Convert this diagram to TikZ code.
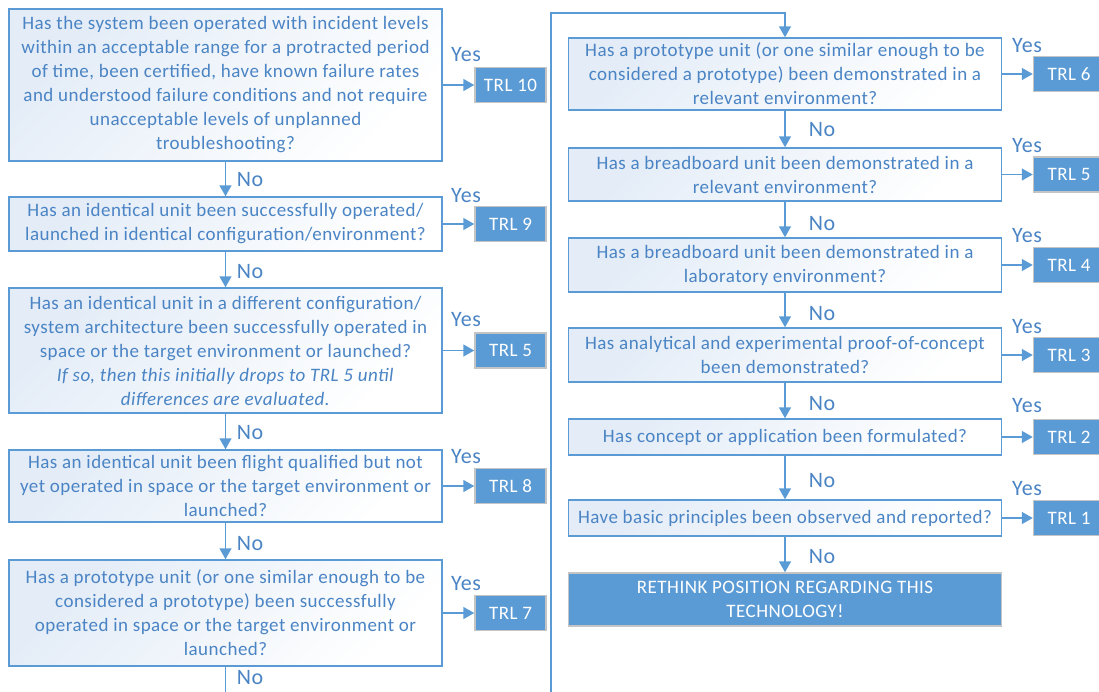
\documentclass[tikz,border=0pt]{standalone}
\usepackage{fontspec}
\setmainfont[LetterSpace=2.5]{Carlito}
\usetikzlibrary{arrows.meta}
\definecolor{lineblue}{HTML}{5B9BD5}
\definecolor{textblue}{HTML}{4A84C4}
\definecolor{qshade}{HTML}{E3ECF7}
\definecolor{trlgray}{HTML}{C4C4C4}
\begin{document}
\begin{tikzpicture}
[x=1pt,y=-1pt]
\tikzset{qbox/.style={draw=lineblue,line width=1.5pt,text=textblue,align=center,inner sep=0pt,minimum width=433pt,font=\fontsize{19}{24}\selectfont,top color=qshade,bottom color=white,shading angle=45}}
\tikzset{trl/.style={draw=trlgray,line width=1.5pt,fill=lineblue,text=white,inner sep=0pt,minimum width=71pt,minimum height=35pt,font=\fontsize{19}{22}\selectfont}}
\tikzset{arr/.style={draw=lineblue,line width=1.5pt,-{Triangle[length=11pt,width=12pt]}}}
\tikzset{lab/.style={text=textblue,inner sep=0pt,font=\fontsize{22}{24}\selectfont}}
\useasboundingbox (0,0) rectangle (1099,691);
\clip (0,0) rectangle (1099,691);

% left column
\node [qbox,minimum height=152pt] (q10) at (225.5,85) {Has the system been operated with incident levels\\within an acceptable range for a protracted period\\of time, been certified, have known failure rates\\and understood failure conditions and not require\\unacceptable levels of unplanned\\troubleshooting?};
\node [qbox,minimum height=54pt] (q9) at (225.5,224) {Has an identical unit been successfully operated/\\launched in identical configuration/environment?};
\node [qbox,minimum height=125pt] (q5a) at (225.5,350.5) {Has an identical unit in a different configuration/\\system architecture been successfully operated in\\space or the target environment or launched?\\\textit{If so, then this initially drops to TRL 5 until}\\\textit{differences are evaluated.}};
\node [qbox,minimum height=72pt] (q8) at (225.5,486) {Has an identical unit been flight qualified but not\\yet operated in space or the target environment or\\launched?};
\node [qbox,minimum height=106pt] (q7) at (225.5,613) {Has a prototype unit (or one similar enough to be\\considered a prototype) been successfully\\operated in space or the target environment or\\launched?};

\node [trl] (t10) at (510.5,85) {TRL 10};
\node [trl] (t9) at (510.5,224) {TRL 9};
\node [trl] (t5a) at (510.5,350.5) {TRL 5};
\node [trl] (t8) at (510.5,486) {TRL 8};
\node [trl] (t7) at (510.5,613) {TRL 7};

% right column
\node [qbox,minimum height=72pt] (q6) at (785,74) {Has a prototype unit (or one similar enough to be\\considered a prototype) been demonstrated in a\\relevant environment?};
\node [qbox,minimum height=53pt] (q5) at (785,174.5) {Has a breadboard unit been demonstrated in a\\relevant environment?};
\node [qbox,minimum height=54pt] (q4) at (785,265) {Has a breadboard unit been demonstrated in a\\laboratory environment?};
\node [qbox,minimum height=54pt] (q3) at (785,355) {Has analytical and experimental proof-of-concept\\been demonstrated?};
\node [qbox,minimum height=36pt] (q2) at (785,437) {Has concept or application been formulated?};
\node [qbox,minimum height=36pt] (q1) at (785,518) {Have basic principles been observed and reported?};
\node [trl,minimum width=433pt,minimum height=53pt,align=center,font=\fontsize{19}{24}\selectfont] (rethink) at (785,599.5) {RETHINK POSITION REGARDING THIS\\TECHNOLOGY!};

\node [trl] (t6) at (1069,74) {TRL 6};
\node [trl] (t5) at (1069,174.5) {TRL 5};
\node [trl] (t4) at (1069,265) {TRL 4};
\node [trl] (t3) at (1069,355) {TRL 3};
\node [trl] (t2) at (1069,437) {TRL 2};
\node [trl] (t1) at (1069,518) {TRL 1};

% connectors
\foreach \from/\to in {q10/t10,q9/t9,q5a/t5a,q8/t8,q7/t7,q6/t6,q5/t5,q4/t4,q3/t3,q2/t2,q1/t1,q10/q9,q9/q5a,q5a/q8,q8/q7,q6/q5,q5/q4,q4/q3,q3/q2,q2/q1,q1/rethink}
	\draw [arr] (\from) -- (\to);

\coordinate (cutl) at (225.5,700);
\coordinate (cutr) at (551,700);
\draw [lineblue,line width=1.5pt] (q7) -- (cutl);
\draw [arr] (cutr) |- (785,13) -- (q6);

% labels
\foreach \y in {55,196,320,457,584}
	\node [lab] at (466,\y) {Yes};
\foreach \y in {46,146,236,327,406,489}
	\node [lab] at (1027,\y) {Yes};
\foreach \y in {180,272,433,544,678}
	\node [lab] at (250,\y) {No};
\foreach \y in {130,224,314,404,481,557}
	\node [lab] at (822,\y) {No};

\end{tikzpicture}
\end{document}
